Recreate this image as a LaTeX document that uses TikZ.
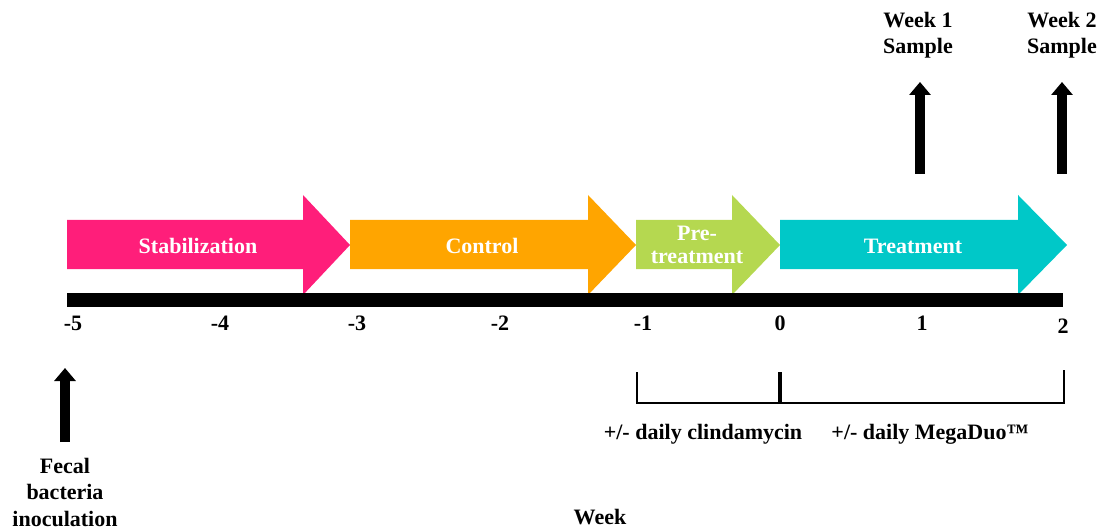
\documentclass[tikz,border=0pt]{standalone}
\usepackage{fontspec}
\setmainfont{Liberation Serif}
\usetikzlibrary{arrows.meta}
\definecolor{cstab}{RGB}{255,30,122}
\definecolor{cctrl}{RGB}{255,165,0}
\definecolor{cpre}{RGB}{181,216,80}
\definecolor{ctreat}{RGB}{0,200,200}
\tikzset{
  lbl/.style={font=\fontsize{22}{26.5}\selectfont\bfseries, inner sep=0pt, align=center},
  phase/.style={lbl, text=white},
  upar/.style={line width=10pt, -{Triangle[width=21pt,length=13pt]}},
  brk/.style={line width=2.6pt},
}
\begin{document}
\begin{tikzpicture}[x=1pt,y=-1pt]
\useasboundingbox (0,0) rectangle (1102,529);
% phase arrows
\fill[cstab] (67,220) -- (303,220) -- (303,195) -- (350,245) -- (303,295) -- (303,269) -- (67,269) -- cycle;
\fill[cctrl] (350,220) -- (588,220) -- (588,195) -- (636,245) -- (588,295) -- (588,269) -- (350,269) -- cycle;
\fill[cpre] (636,220) -- (732,220) -- (732,195) -- (780,245) -- (732,295) -- (732,269) -- (636,269) -- cycle;
\fill[ctreat] (780,220) -- (1018,220) -- (1018,195) -- (1067,245) -- (1018,295) -- (1018,269) -- (780,269) -- cycle;
\node[phase] (stab) at (198,246) {Stabilization};
\node[phase] (ctrl) at (482,246) {Control};
\node[phase] (pre) at (697,245) {Pre-\\[-3pt]treatment};
\node[phase] (treat) at (913,246) {Treatment};
% timeline
\fill[black] (67,293) rectangle (1063,307);
\node[lbl] (t-5) at (73,323) {-5};
\node[lbl] (t-4) at (220,323) {-4};
\node[lbl] (t-3) at (357,323) {-3};
\node[lbl] (t-2) at (500,323) {-2};
\node[lbl] (t-1) at (643,323) {-1};
\node[lbl] (t0) at (780,323) {0};
\node[lbl] (t1) at (922,323) {1};
\node[lbl] (t2) at (1063,326) {2};
% sample arrows
\node[lbl] (w1) at (918,35) {Week 1\\Sample};
\node[lbl] (w2) at (1062,35) {Week 2\\Sample};
\coordinate (w1b) at (920,174);
\coordinate (w2b) at (1062,174);
\coordinate (w1t) at (920,82);
\coordinate (w2t) at (1062,82);
\draw[upar] (w1b) -- (w1t);
\draw[upar] (w2b) -- (w2t);
% fecal inoculation
\node[lbl] (fecal) at (65,492) {Fecal\\bacteria\\inoculation};
\coordinate (fb) at (65,442);
\coordinate (ft) at (65,368);
\draw[upar] (fb) -- (ft);
% brackets
\coordinate (b1t) at (637,372);
\coordinate (b1b) at (637,403);
\coordinate (b2t) at (780,372);
\coordinate (b2b) at (780,403);
\coordinate (b3t) at (1064,370);
\coordinate (b3b) at (1064,403);
\draw[brk] (b1t) -- (b1b) -- (b3b) -- (b3t);
\draw[line width=4.5pt] (b2t) -- (b2b);
\node[lbl] (clin) at (703,434) {+/- daily clindamycin};
\node[lbl] (mega) at (930,434) {+/- daily MegaDuo™};
\node[lbl] (week) at (600,517) {Week};
\end{tikzpicture}
\end{document}
